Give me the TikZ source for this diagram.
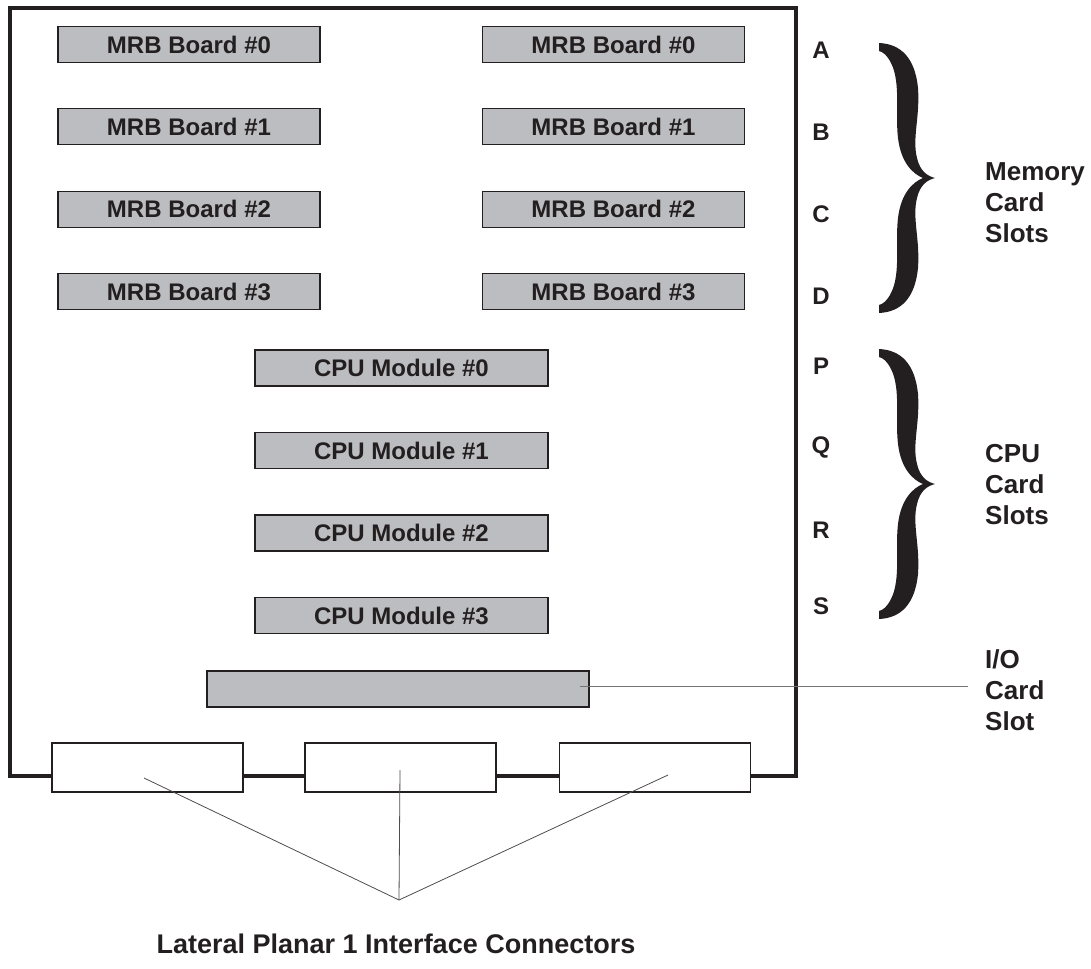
\documentclass[tikz,border=0pt]{standalone}
\usepackage{fontspec}
\setmainfont{Liberation Sans}
\usepackage{tikz}
\definecolor{boardgray}{RGB}{188,189,192}
\definecolor{inkblack}{RGB}{35,31,32}

\tikzset{
  slotbrace/.pic={
    \fill[inkblack] (0,0) .. controls (22,1) and (36,15) .. (39,45)
      .. controls (41,75) and (33,95) .. (38,115)
      .. controls (41,128) and (48,133) .. (56,135)
      .. controls (48,137) and (41,142) .. (38,155)
      .. controls (33,175) and (41,195) .. (39,225)
      .. controls (36,255) and (22,269) .. (0,270)
      -- (0,262)
      .. controls (4,261) and (8,258) .. (12,250)
      .. controls (22,230) and (16,200) .. (19,175)
      .. controls (22,150) and (34,139) .. (44,135)
      .. controls (34,131) and (22,120) .. (19,95)
      .. controls (16,70) and (22,40) .. (12,20)
      .. controls (8,12) and (4,9) .. (0,8) -- cycle;
  }
}

\begin{document}
\begin{tikzpicture}[x=1pt,y=-1pt,
  card/.style={draw=inkblack,line width=1.2pt,fill=boardgray,inner sep=0pt,
    minimum height=36pt,text=inkblack,font=\fontsize{24}{28}\selectfont\bfseries},
  plug/.style={draw=inkblack,line width=1.4pt,fill=white,inner sep=0pt,
    minimum width=191pt,minimum height=49pt},
  slotletter/.style={text=inkblack,font=\fontsize{24}{28}\selectfont\bfseries},
  sidelabel/.style={anchor=west,align=left,inner sep=0pt,text=inkblack,
    font=\fontsize{26}{31}\selectfont\bfseries},
  leader/.style={draw=inkblack!80,line width=0.8pt}]
\useasboundingbox (0,0) rectangle (1091,968);

% planar outline
\draw[inkblack,line width=4.5pt] (10,8) rectangle (796,776);

% memory boards, two columns
\foreach \i in {0,...,3} {
  \node[card,minimum width=262pt] (mrbL\i) at (189,44.5+82.4*\i) {MRB Board \#\i};
  \node[card,minimum width=262pt] (mrbR\i) at (613.5,44.5+82.4*\i) {MRB Board \#\i};
}

% cpu modules
\foreach \i in {0,...,3}
  \node[card,minimum width=293pt] (cpu\i) at (401.5,368+82.5*\i) {CPU Module \#\i};

% i/o slot
\node[card,minimum width=382pt] (io) at (398,689) {};

% slot letters
\foreach \l/\y in {A/50,B/132,C/214,D/296,P/366,Q/447,R/530,S/606}
  \node[slotletter] (let\l) at (821,\y) {\l};

% braces
\pic at (879,43) {slotbrace};
\pic at (879,349) {slotbrace};

\node[sidelabel] (memlbl) at (985,203) {Memory\\Card\\Slots};
\node[sidelabel] (cpulbl) at (985,485) {CPU\\Card\\Slots};
\node[sidelabel] (iolbl) at (985,690) {I/O\\Card\\Slot};

\coordinate (iotap) at (580,686);
\coordinate (ioend) at (968,686);
\draw[draw=black!55,line width=1pt] (iotap) -- (ioend);

% interface connectors
\node[plug] (conn1) at (147.5,767.5) {};
\node[plug] (conn2) at (400.5,767.5) {};
\node[plug] (conn3) at (655,767.5) {};

\coordinate (tap1) at (144,778);
\coordinate (tap2) at (400,770);
\coordinate (tap3) at (668,775);
\coordinate (hub) at (399,900);
\draw[leader] (tap1) -- (hub) -- (tap3);
\draw[leader] (tap2) -- (hub);

\node[text=inkblack,font=\fontsize{27}{31}\selectfont\bfseries] (conlbl) at (396,944)
  {Lateral Planar 1 Interface Connectors};
\end{tikzpicture}
\end{document}
